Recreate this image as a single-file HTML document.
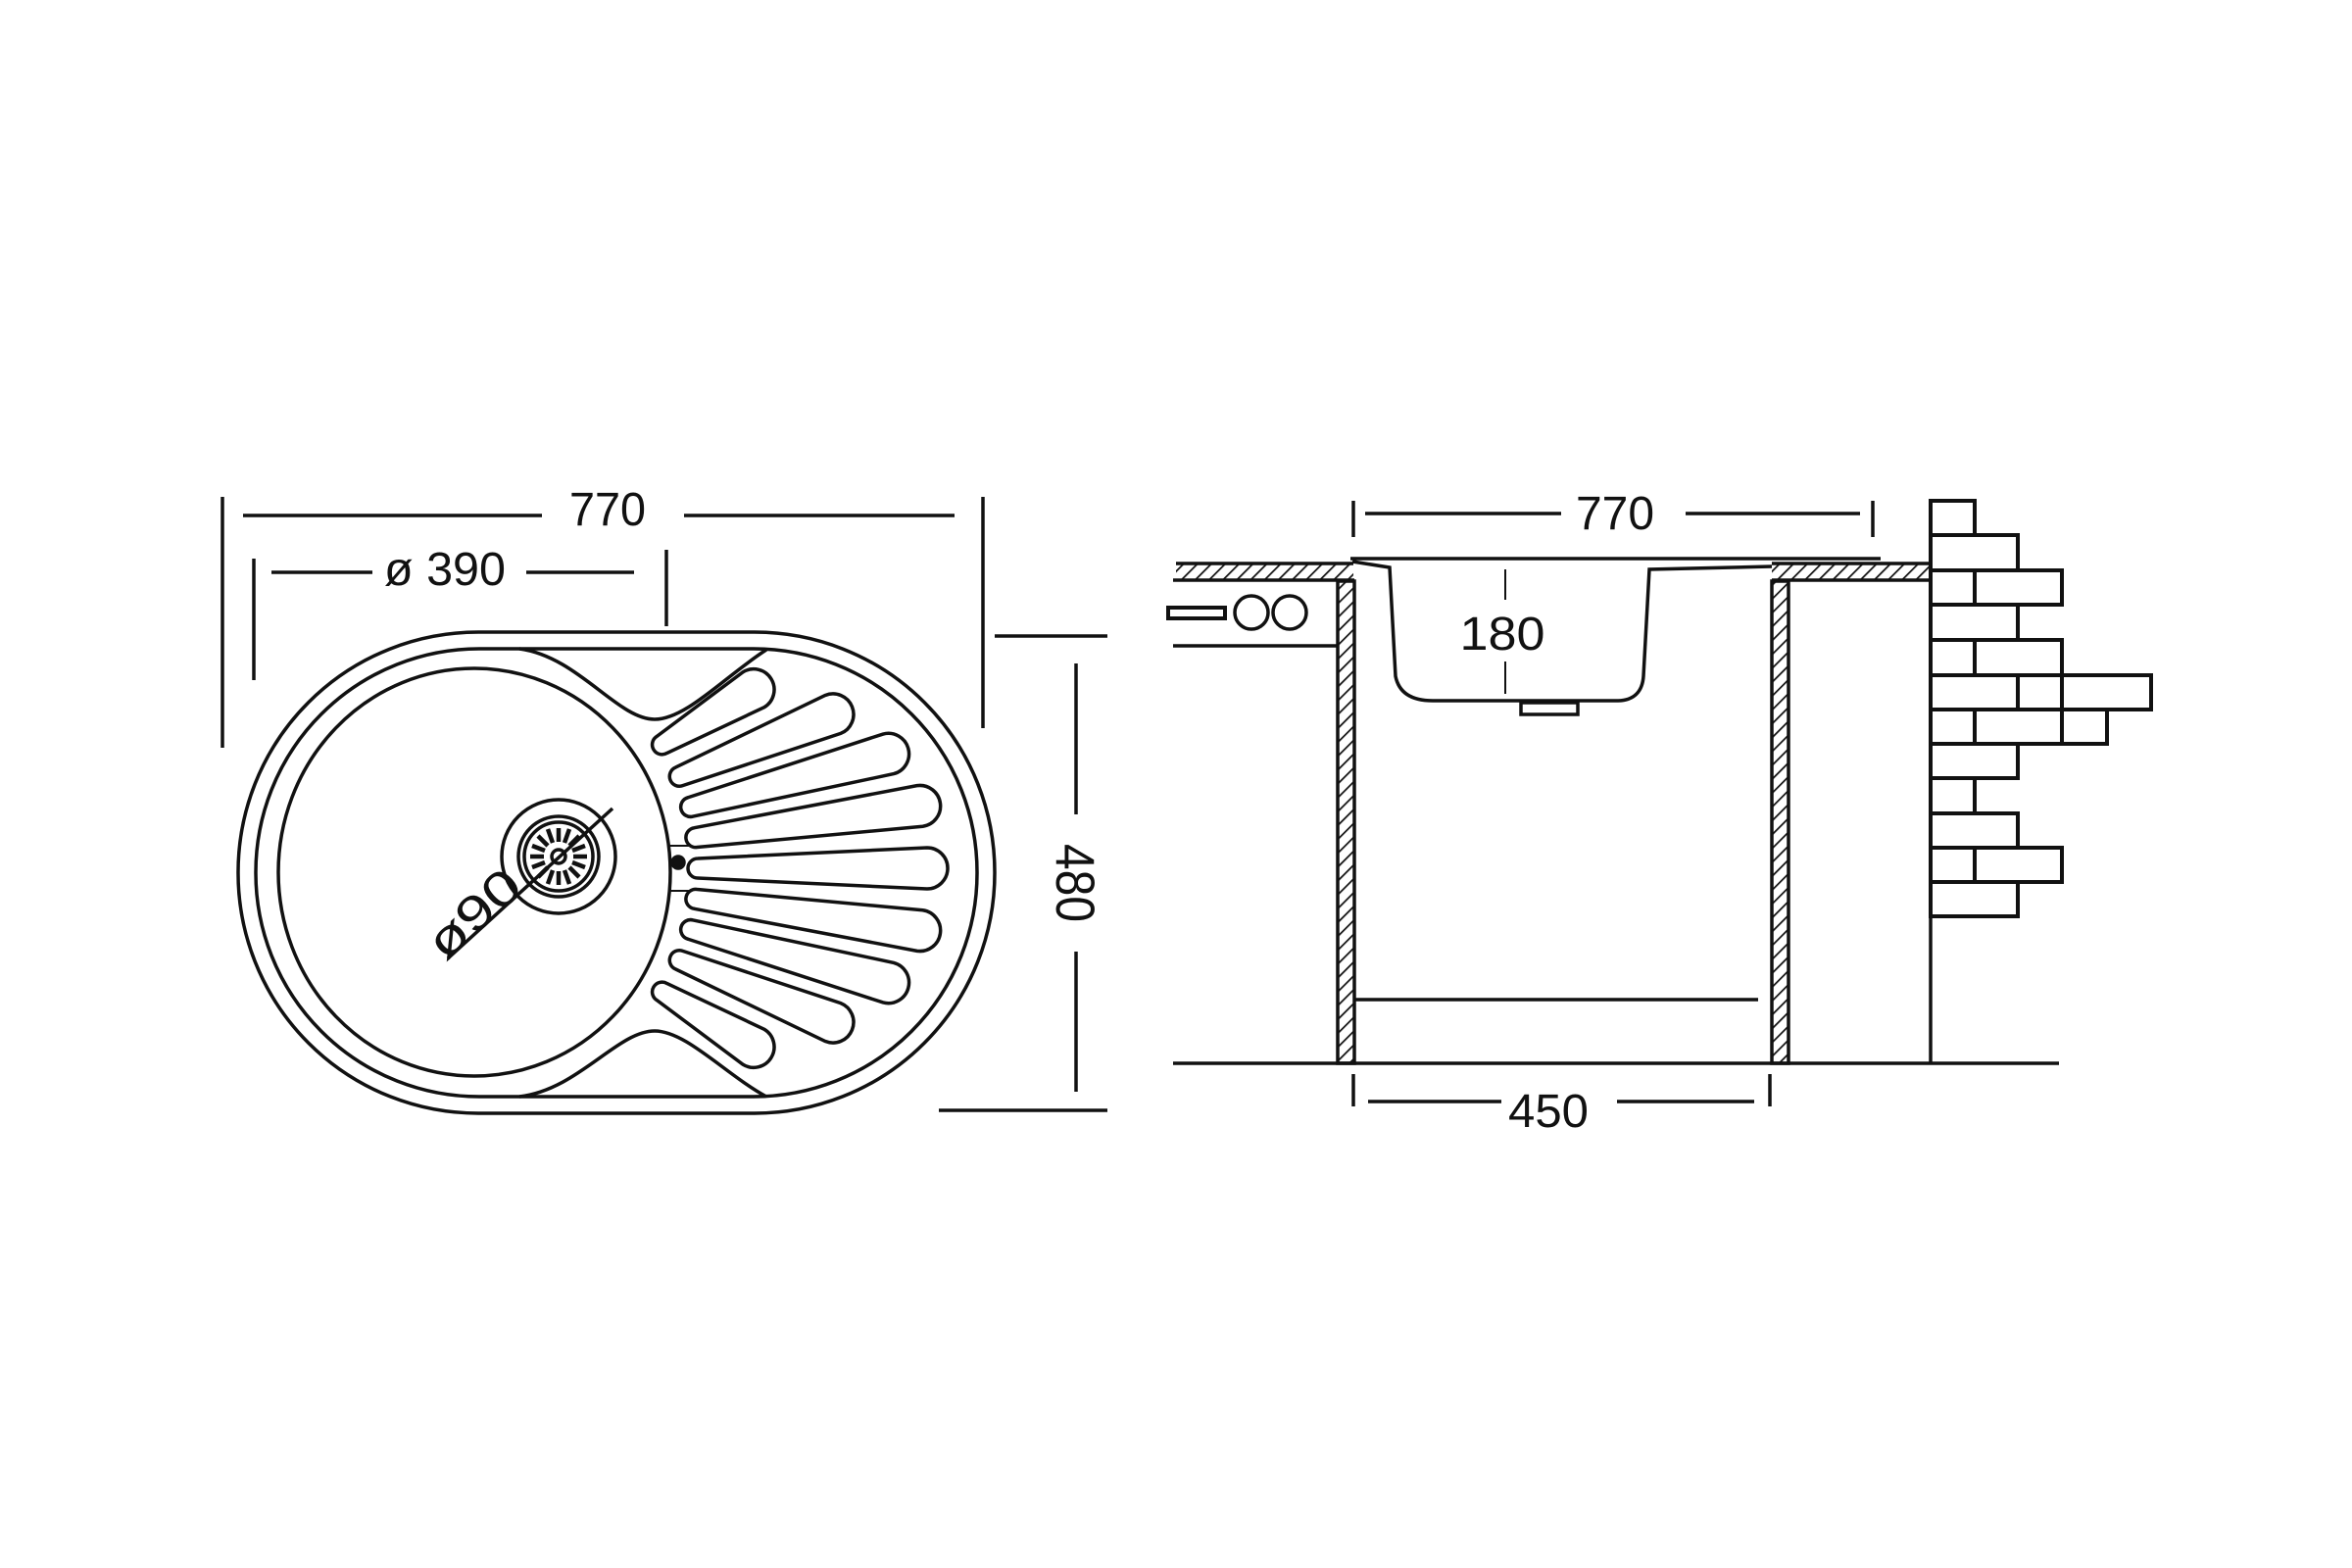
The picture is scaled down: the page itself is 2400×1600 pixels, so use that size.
<!DOCTYPE html>
<html><head><meta charset="utf-8"><style>html,body{margin:0;padding:0;background:#fff}svg{display:block}</style></head>
<body>
<svg width="2400" height="1600" viewBox="0 0 2400 1600" xmlns="http://www.w3.org/2000/svg">
<defs>
<pattern id="h" patternUnits="userSpaceOnUse" width="10" height="10" patternTransform="rotate(45)">
<rect width="10" height="10" fill="#fff"/><line x1="0" y1="0" x2="0" y2="10" stroke="#111" stroke-width="3.5"/></pattern>
</defs>
<g fill="none" stroke="#111" stroke-width="3.5">
<rect x="243" y="645" width="772" height="491" rx="245" ry="245"/>
<rect x="261" y="662" width="736" height="457" rx="228" ry="228"/>
<ellipse cx="484" cy="890" rx="200" ry="208"/>
<path d="M530,662 C590,670 630,734 668,734 C700,734 740,690 782,663"/>
<path d="M530,1119 C590,1112 630,1052 668,1052 C700,1052 740,1096 782,1119"/>
<path transform="translate(667,765) rotate(-31)" d="M10,-10 L119,-21 A21 21 0 0 1 119,21 L10,10 A10 10 0 0 1 10,-10Z"/>
<path transform="translate(684,796) rotate(-22)" d="M10,-10 L179,-21 A21 21 0 0 1 179,21 L10,10 A10 10 0 0 1 10,-10Z"/>
<path transform="translate(695,826) rotate(-15)" d="M10,-10 L219,-21 A21 21 0 0 1 219,21 L10,10 A10 10 0 0 1 10,-10Z"/>
<path transform="translate(700,856) rotate(-8)" d="M10,-10 L241,-21 A21 21 0 0 1 241,21 L10,10 A10 10 0 0 1 10,-10Z"/>
<path transform="translate(702,886) rotate(0)" d="M10,-10 L244,-21 A21 21 0 0 1 244,21 L10,10 A10 10 0 0 1 10,-10Z"/>
<path transform="translate(700,916) rotate(8)" d="M10,-10 L241,-21 A21 21 0 0 1 241,21 L10,10 A10 10 0 0 1 10,-10Z"/>
<path transform="translate(695,946) rotate(15)" d="M10,-10 L219,-21 A21 21 0 0 1 219,21 L10,10 A10 10 0 0 1 10,-10Z"/>
<path transform="translate(684,976) rotate(22)" d="M10,-10 L179,-21 A21 21 0 0 1 179,21 L10,10 A10 10 0 0 1 10,-10Z"/>
<path transform="translate(667,1007) rotate(31)" d="M10,-10 L119,-21 A21 21 0 0 1 119,21 L10,10 A10 10 0 0 1 10,-10Z"/>
<path d="M682,863 H703 M682,909 H703" stroke-width="2"/>
<circle cx="692" cy="880" r="6" fill="#111"/>
<circle cx="570" cy="874" r="58"/>
<circle cx="570" cy="874" r="41"/>
<circle cx="570" cy="874" r="35"/>
<circle cx="570" cy="874" r="7"/>
<g stroke-width="4.5">
<path d="M570,859V845 M570,889V903 M555,874H541 M585,874H599 M559,863L549,853 M581,863L591,853 M559,885L549,895 M581,885L591,895 M564,860L559,846 M576,860L581,846 M564,888L559,902 M576,888L581,902 M556,868L543,863 M584,868L597,863 M556,880L543,885 M584,880L597,885"/>
</g>
<path d="M457,978 L625,825"/>
<path d="M227,507V763 M1003,507V743 M248,526H553 M698,526H974"/>
<path d="M259,570V694 M680,561V639 M277,584H380 M537,584H647"/>
<path d="M1015,649H1130 M958,1133H1130 M1098,677V831 M1098,971V1114"/>
<path d="M1381,511V548 M1911,511V548 M1393,524H1593 M1720,524H1898"/>
<rect x="1200" y="576" width="181" height="15" fill="url(#h)" stroke="none"/>
<rect x="1808" y="576" width="162" height="15" fill="url(#h)" stroke="none"/>
<path d="M1200,575H1381 M1197,592H1382 M1808,575H1970 M1808,592H1970"/>
<rect x="1365" y="593" width="17" height="492" fill="url(#h)" stroke="#111"/>
<rect x="1808" y="593" width="17" height="492" fill="url(#h)" stroke="#111"/>
<path d="M1378,570H1919 M1380,573L1418,579 L1424,690 C1428,710 1445,715 1462,715 H1650 C1668,715 1676,705 1677,690 L1683,581 L1808,578"/>
<rect x="1552" y="717" width="58" height="12"/>
<path d="M1536,581V612 M1536,675V708" stroke-width="2"/>
<rect x="1192" y="620" width="58" height="11" stroke-width="4"/>
<circle cx="1277" cy="625" r="17"/>
<circle cx="1316" cy="625" r="17"/>
<path d="M1197,659H1365"/>
<path d="M1197,1085H2101 M1382,1020H1794"/>
<path d="M1381,1096V1129 M1806,1096V1129 M1396,1124H1532 M1650,1124H1790"/>
<path d="M1970,511V1085"/>
<g stroke-width="4">
<rect x="1970" y="511" width="45" height="35"/>
<rect x="1970" y="546" width="89" height="36"/>
<rect x="1970" y="582" width="45" height="35"/><rect x="2015" y="582" width="89" height="35"/>
<rect x="1970" y="617" width="89" height="36"/>
<rect x="1970" y="653" width="45" height="36"/><rect x="2015" y="653" width="89" height="36"/>
<rect x="1970" y="689" width="89" height="35"/><rect x="2059" y="689" width="45" height="35"/><rect x="2104" y="689" width="91" height="35"/>
<rect x="1970" y="724" width="45" height="35"/><rect x="2015" y="724" width="89" height="35"/><rect x="2104" y="724" width="46" height="35"/>
<rect x="1970" y="759" width="89" height="35"/>
<rect x="1970" y="794" width="45" height="36"/>
<rect x="1970" y="830" width="89" height="35"/>
<rect x="1970" y="865" width="45" height="35"/><rect x="2015" y="865" width="89" height="35"/>
<rect x="1970" y="900" width="89" height="35"/>
</g>
</g>
<g font-family="Liberation Sans, sans-serif" fill="#111" font-size="48" text-anchor="middle">
<text x="620" y="536" textLength="78" lengthAdjust="spacingAndGlyphs">770</text>
<text x="454" y="597" textLength="124" lengthAdjust="spacingAndGlyphs">ø 390</text>
<text transform="translate(1078,901) rotate(90)" x="0" y="0" font-size="56" textLength="80" lengthAdjust="spacingAndGlyphs">480</text>
<text transform="translate(495,945) rotate(-42)" x="0" y="0" font-size="50" textLength="110" lengthAdjust="spacingAndGlyphs">ø90</text>
<text x="1648" y="540" textLength="80" lengthAdjust="spacingAndGlyphs">770</text>
<text x="1533" y="663" textLength="87" lengthAdjust="spacingAndGlyphs">180</text>
<text x="1580" y="1150" textLength="82" lengthAdjust="spacingAndGlyphs">450</text>
</g>
</svg>
</body></html>
